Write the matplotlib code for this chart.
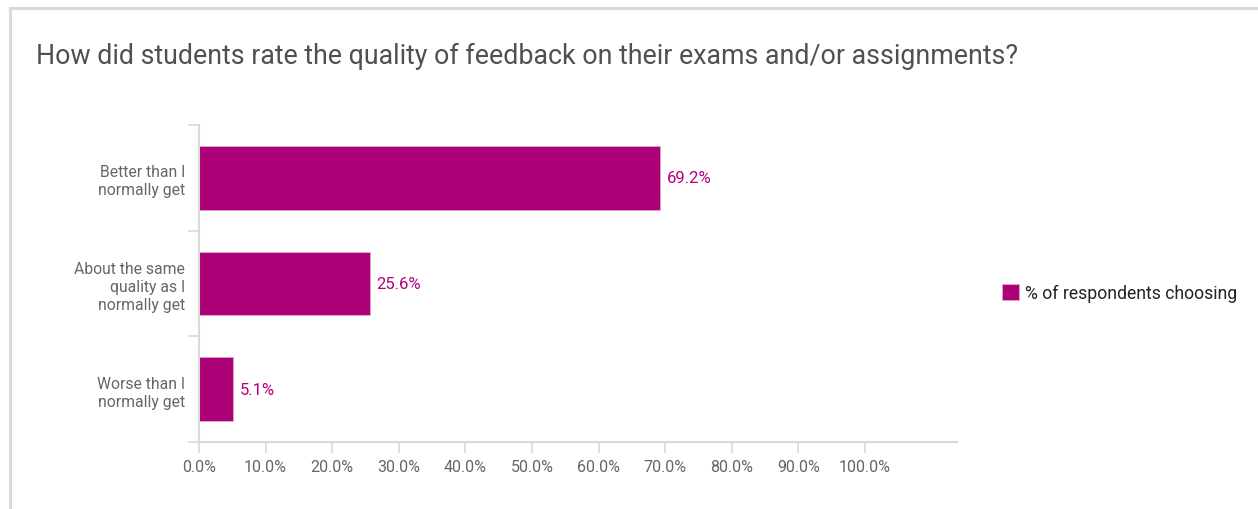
import matplotlib
matplotlib.use("Agg")
import matplotlib.pyplot as plt
from matplotlib.lines import Line2D
from matplotlib.patches import Patch

# survey responses, top to bottom
categories = ["Better than I\nnormally get",
              "About the same\nquality as I\nnormally get",
              "Worse than I\nnormally get"]
pct = [69.2, 25.6, 5.1]
xticks = list(range(0, 101, 10))
xticklabels = [f"{t:.1f}%" for t in xticks]

BAR = "#ac0077"
GRID = "#d9d9d9"
plt.rcParams["font.family"] = ["Roboto", "DejaVu Sans"]

fig = plt.figure(figsize=(12.58, 5.10), dpi=100)
ax = fig.add_axes([199/1258, 67/510, 758/1258, 317/510])

ypos = list(range(len(categories)))
ax.barh(ypos, pct, height=0.6, color=BAR, edgecolor="#e6a3cf", linewidth=0.6)
for y, v in zip(ypos, pct):
    ax.text(v + 1.0, y, f"{v:.1f}%", va="center", ha="left",
            fontsize=12, color="#b3007d")

ax.set_xlim(0, 113.8)
ax.set_ylim(len(categories) - 0.5, -0.5)
ax.set_xticks(xticks)
ax.set_xticklabels(xticklabels, fontsize=11.5, color="#666666")
# tick marks sit on the category boundaries, labels go in the band centres
ax.set_yticks([i - 0.5 for i in range(len(categories) + 1)])
ax.set_yticklabels([])
ax.set_yticks(ypos, minor=True)
ax.set_yticklabels(categories, minor=True, fontsize=11.3, color="#666666",
                   linespacing=1.25)
ax.tick_params(axis="y", which="minor", length=0, pad=10)
ax.tick_params(axis="y", which="major", length=8, width=1.2, color=GRID)
ax.tick_params(axis="x", length=8, width=1.2, color=GRID, pad=4)
for s in ("top", "right"):
    ax.spines[s].set_visible(False)
for s in ("left", "bottom"):
    ax.spines[s].set_color(GRID)
    ax.spines[s].set_linewidth(1.5)

fig.text(36/1258, 1 - 56/510, "How did students rate the quality of feedback on their exams and/or assignments?",
         fontsize=19.3, color="#505050", va="center", ha="left")

fig.legend(handles=[Patch(facecolor=BAR, edgecolor="#e6a3cf", linewidth=0.6,
                          label="% of respondents choosing")],
           loc="center left", bbox_to_anchor=(986/1258, 1 - 294/510),
           frameon=False, fontsize=12.7, handlelength=0.95, handleheight=0.95,
           handletextpad=0.35, labelcolor="#222222")

# light frame along the top and left edge
fig.add_artist(Line2D([10/1258, 1], [1 - 8.5/510] * 2, color=GRID, lw=2.2,
                      transform=fig.transFigure))
fig.add_artist(Line2D([10/1258] * 2, [0, 1 - 8.5/510], color=GRID, lw=2.2,
                      transform=fig.transFigure))

fig.savefig("out.png", dpi=100, facecolor="white")
